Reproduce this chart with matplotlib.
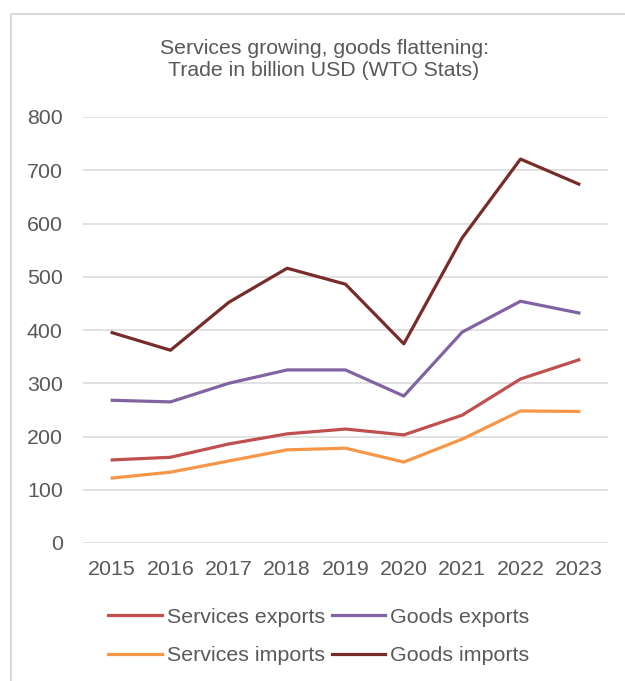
import matplotlib.pyplot as plt
from matplotlib.patches import Rectangle

plt.rcParams["font.family"] = ["Liberation Sans", "DejaVu Sans"]

years = ["2015", "2016", "2017", "2018", "2019", "2020", "2021", "2022", "2023"]
services_exports = [156, 161, 186, 205, 214, 203, 240, 308, 344]
goods_exports = [268, 265, 300, 325, 325, 276, 396, 454, 432]
services_imports = [122, 133, 154, 175, 178, 152, 195, 248, 247]
goods_imports = [395, 362, 452, 516, 486, 374, 573, 721, 674]
y_ticks = [0, 100, 200, 300, 400, 500, 600, 700, 800]

W, H = 625, 681
fig = plt.figure(figsize=(W / 100, H / 100), dpi=100)
ax = fig.add_axes([83 / W, 1 - 543 / H, (608 - 83) / W, (543 - 117) / H])

x = range(len(years))
l_se, = ax.plot(x, services_exports, color="#C0504D", lw=2.3, label="Services exports")
l_ge, = ax.plot(x, goods_exports, color="#8064A2", lw=2.3, label="Goods exports")
l_si, = ax.plot(x, services_imports, color="#F79646", lw=2.3, label="Services imports")
l_gi, = ax.plot(x, goods_imports, color="#772C2A", lw=2.3, label="Goods imports")

ax.set_xlim(-0.5, len(years) - 0.5)
ax.set_ylim(0, 800)
ax.set_xticks(list(x))
ax.set_xticklabels(years)
ax.set_yticks(y_ticks)
ax.tick_params(length=0, labelsize=15.4, labelcolor="#595959")
ax.tick_params(axis="x", pad=12)
ax.tick_params(axis="y", pad=14.5)
ax.grid(axis="y", color="#D9D9D9", lw=1.1)
ax.set_axisbelow(True)
for s in ax.spines.values():
    s.set_visible(False)

fig.text(324 / W, 1 - 60 / H,
         "Services growing, goods flattening:\nTrade in billion USD (WTO Stats)",
         ha="center", va="center", fontsize=15.3, color="#595959", linespacing=1.2)

# legend fills column-wise, so order handles to read row by row
handles = [l_se, l_si, l_ge, l_gi]
fig.legend(handles, [h.get_label() for h in handles],
           loc="center", bbox_to_anchor=(319 / W, 1 - 636.5 / H), ncol=2,
           frameon=False, fontsize=15.4, labelcolor="#595959",
           handlelength=2.5, handletextpad=0.23, columnspacing=0.33,
           labelspacing=0.9, borderpad=0, borderaxespad=0)

fig.patches.append(Rectangle((11 / W, -0.1), 1.2, 1.1 - 14 / H,
                             transform=fig.transFigure, fill=False,
                             edgecolor="#D9D9D9", lw=1.5))

fig.savefig("out.png", dpi=100)
